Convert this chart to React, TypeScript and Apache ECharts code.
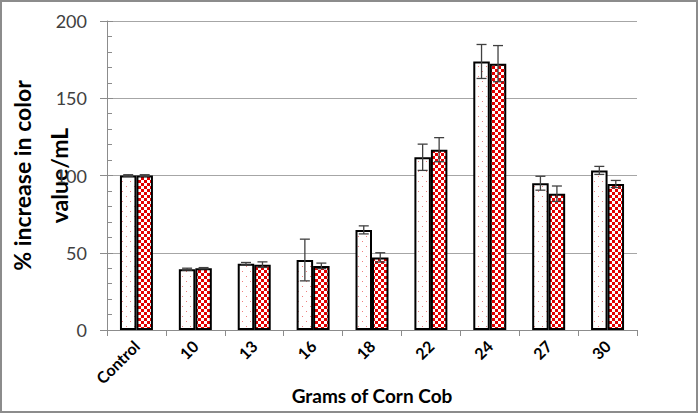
import React, { useEffect, useRef } from "react";
import * as echarts from "echarts";

const categories = ["Control", "10", "13", "16", "18", "22", "24", "27", "30"];
const seriesA = [100, 39.4, 42.9, 45.3, 64.8, 111.8, 173.8, 95.0, 103.3];
const errA = [0.5, 0.6, 0.8, 13.5, 2.6, 8.5, 11.0, 4.5, 2.6];
const seriesB = [100, 40.0, 42.3, 41.5, 47.0, 116.7, 172.4, 88.2, 94.5];
const errB = [0.5, 0.4, 1.8, 1.8, 3.0, 7.8, 11.7, 5.0, 2.3];
const yTicks = { min: 0, max: 200, interval: 50 };
const xTitle = "Grams of Corn Cob";
const yTitle = "% increase in color\nvalue/mL";

function dotPattern(): HTMLCanvasElement {
  const c = document.createElement("canvas");
  c.width = 8;
  c.height = 10;
  const ctx = c.getContext("2d")!;
  ctx.fillStyle = "#ffffff";
  ctx.fillRect(0, 0, 8, 10);
  ctx.fillStyle = "#f08080";
  ctx.fillRect(2, 1, 1, 1);
  ctx.fillRect(6, 6, 1, 1);
  return c;
}

function checkerPattern(): HTMLCanvasElement {
  const c = document.createElement("canvas");
  c.width = 6;
  c.height = 6;
  const ctx = c.getContext("2d")!;
  ctx.fillStyle = "#ffffff";
  ctx.fillRect(0, 0, 6, 6);
  ctx.fillStyle = "#e30000";
  ctx.fillRect(0, 0, 3, 3);
  ctx.fillRect(3, 3, 3, 3);
  return c;
}

export default function App() {
  const ref = useRef<HTMLDivElement>(null);
  useEffect(() => {
    if (!ref.current) return;
    const chart = echarts.init(ref.current, undefined, { renderer: "svg" });
    const font = "Lato";
    const errorSeries = (vals: number[], errs: number[], side: number) => ({
      type: "custom",
      xAxisIndex: 0,
      yAxisIndex: 0,
      z: 5,
      silent: true,
      data: vals.map((v, i) => [i, v, v - errs[i], v + errs[i]]),
      renderItem: (params: any, api: any) => {
        const idx = api.value(0);
        const band = api.size([1, 0])[0];
        const offset = side * band * 0.14;
        const lo = api.coord([idx, api.value(2)]);
        const hi = api.coord([idx, api.value(3)]);
        const x = lo[0] + offset;
        const cap = 5;
        const style = { stroke: "#404040", lineWidth: 1.3 };
        return {
          type: "group",
          children: [
            { type: "line", shape: { x1: x, y1: lo[1], x2: x, y2: hi[1] }, style },
            { type: "line", shape: { x1: x - cap, y1: lo[1], x2: x + cap, y2: lo[1] }, style },
            { type: "line", shape: { x1: x - cap, y1: hi[1], x2: x + cap, y2: hi[1] }, style },
          ],
        };
      },
    });
    chart.setOption({
      animation: false,
      backgroundColor: "#ffffff",
      grid: {
        left: 107,
        right: 61,
        top: 21,
        bottom: 83,
        containLabel: false,
        outerBoundsMode: "none",
      },
      graphic: [
        {
          type: "rect",
          shape: { x: 1, y: 1, width: 696, height: 411 },
          style: { fill: "none", stroke: "#8c8c8c", lineWidth: 2 },
          silent: true,
        },
      ],
      xAxis: {
        type: "category",
        data: categories,
        boundaryGap: true,
        name: xTitle,
        nameLocation: "middle",
        nameGap: 56,
        nameMoveOverlap: false,
        nameTextStyle: { fontFamily: font, fontWeight: "bold", fontSize: 19, color: "#000" },
        axisLine: { lineStyle: { color: "#8c8c8c", width: 1 } },
        axisTick: { show: true, alignWithLabel: false, length: 6, lineStyle: { color: "#8c8c8c" } },
        axisLabel: {
          rotate: 45,
          margin: 13,
          fontFamily: font,
          fontWeight: "bold",
          fontSize: 16,
          color: "#000",
          interval: 0,
        },
        splitLine: { show: false },
      },
      yAxis: [
        {
          type: "value",
          min: yTicks.min,
          max: yTicks.max,
          interval: yTicks.interval,
          name: yTitle,
          nameLocation: "middle",
          nameGap: 30,
          nameRotate: 90,
          nameMoveOverlap: false,
          nameTextStyle: {
            fontFamily: font,
            fontWeight: "bold",
            fontSize: 23,
            color: "#000",
            lineHeight: 37,
          },
          axisLine: { show: true, lineStyle: { color: "#8c8c8c", width: 1 } },
          axisTick: { show: true, inside: true, length: 6, lineStyle: { color: "#8c8c8c" } },
          minorTick: { show: true, splitNumber: 5, length: 5, lineStyle: { color: "#8c8c8c" } },
          axisLabel: { fontFamily: font, fontSize: 18, color: "#404040", margin: 20 },
          splitLine: { show: true, lineStyle: { color: "#a6a6a6", width: 1 } },
        },
        {
          type: "value",
          min: yTicks.min,
          max: yTicks.max,
          interval: yTicks.interval,
          position: "left",
          axisLine: { show: false },
          axisTick: { show: true, length: 7, lineStyle: { color: "#8c8c8c" } },
          axisLabel: { show: false },
          splitLine: { show: false },
        },
      ],
      series: [
        {
          type: "bar",
          data: seriesA,
          barWidth: "28%",
          barGap: "0%",
          itemStyle: {
            color: { image: dotPattern(), repeat: "repeat" },
            borderColor: "#000",
            borderWidth: 2,
          },
        },
        {
          type: "bar",
          data: seriesB,
          barWidth: "28%",
          barGap: "0%",
          itemStyle: {
            color: { image: checkerPattern(), repeat: "repeat" },
            borderColor: "#000",
            borderWidth: 2,
          },
        },
        errorSeries(seriesA, errA, -1),
        errorSeries(seriesB, errB, 1),
      ],
    });
    return () => chart.dispose();
  }, []);
  return (
    <div style={{ position: "fixed", left: 0, top: 0, width: 698, height: 413, background: "#fff" }}>
      <div ref={ref} style={{ width: 698, height: 413 }} />
    </div>
  );
}
